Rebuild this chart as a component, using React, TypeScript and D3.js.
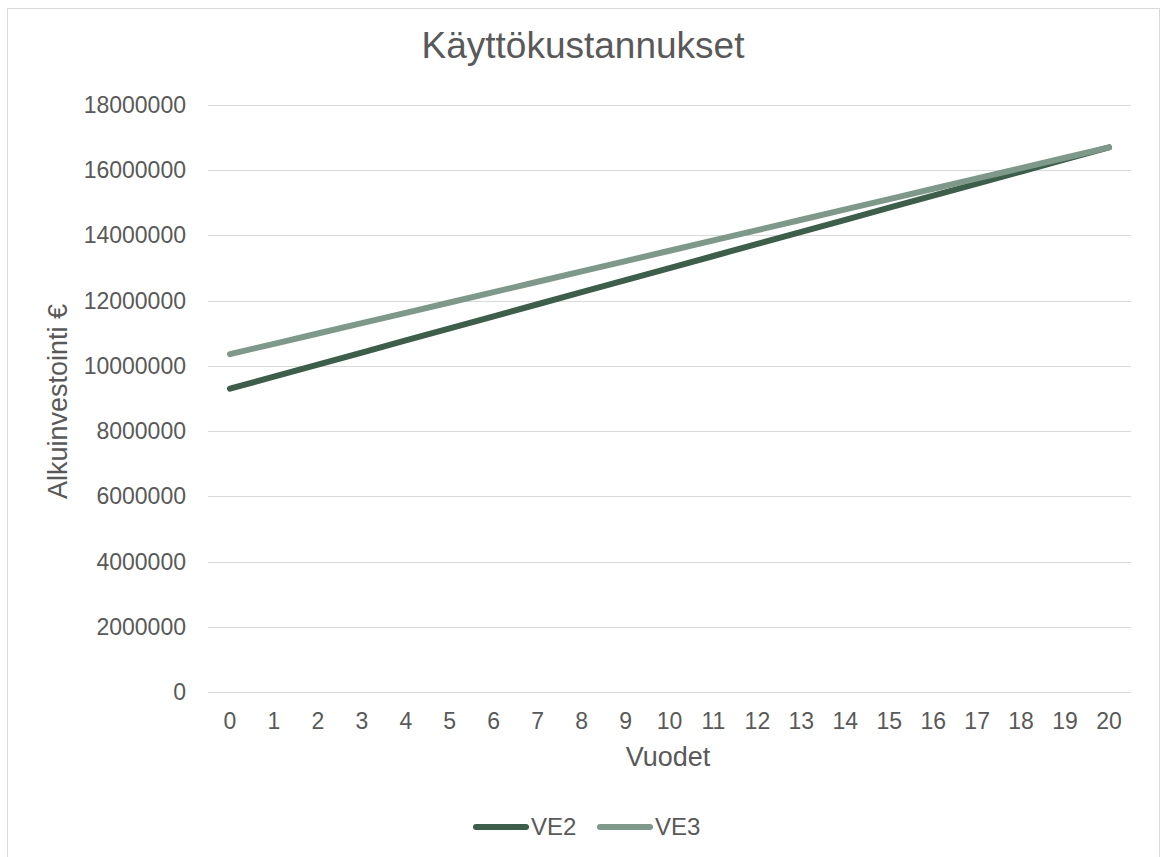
import React, { useEffect, useRef } from 'react';
import * as d3 from 'd3';

const years = d3.range(0, 21).map(String);
const ve2 = [
  9300000, 9670000, 10040000, 10410000, 10780000, 11150000, 11520000, 11890000, 12260000, 12630000, 13000000,
  13370000, 13740000, 14110000, 14480000, 14850000, 15220000, 15590000, 15960000, 16330000, 16700000,
];
const ve3 = [
  10360000, 10677000, 10994000, 11311000, 11628000, 11945000, 12262000, 12579000, 12896000, 13213000, 13530000,
  13847000, 14164000, 14481000, 14798000, 15115000, 15432000, 15749000, 16066000, 16383000, 16700000,
];
const yTicks = [0, 2000000, 4000000, 6000000, 8000000, 10000000, 12000000, 14000000, 16000000, 18000000];
const series = [
  { name: 'VE2', values: ve2, color: '#3c5e4b' },
  { name: 'VE3', values: ve3, color: '#7e988a' },
];

const App: React.FC = () => {
  const ref = useRef<SVGSVGElement>(null);

  useEffect(() => {
    const svg = d3.select(ref.current);
    svg.selectAll('*').remove();
    const font = '"Liberation Sans", Arial, sans-serif';
    const textColor = '#595959';

    svg
      .append('rect')
      .attr('x', 7.5)
      .attr('y', 8.5)
      .attr('width', 1152)
      .attr('height', 870)
      .attr('fill', 'white')
      .attr('stroke', '#d9d9d9');

    const left = 208;
    const right = 1131;
    const top = 105;
    const bottom = 692;

    const x = d3.scaleBand().domain(years).range([left, right]);
    const y = d3.scaleLinear().domain([0, 18000000]).range([bottom, top]);

    svg
      .selectAll('.grid')
      .data(yTicks)
      .enter()
      .append('line')
      .attr('x1', left)
      .attr('x2', right)
      .attr('y1', (d) => Math.round(y(d)) + 0.5)
      .attr('y2', (d) => Math.round(y(d)) + 0.5)
      .attr('stroke', '#d9d9d9')
      .attr('stroke-width', 1);

    svg
      .selectAll('.ylab')
      .data(yTicks)
      .enter()
      .append('text')
      .attr('x', 186)
      .attr('y', (d) => y(d))
      .attr('dy', '0.35em')
      .attr('text-anchor', 'end')
      .attr('font-family', font)
      .attr('font-size', 23)
      .attr('fill', textColor)
      .text((d) => String(d));

    svg
      .selectAll('.xlab')
      .data(years)
      .enter()
      .append('text')
      .attr('x', (d) => x(d)! + x.bandwidth() / 2)
      .attr('y', 729)
      .attr('text-anchor', 'middle')
      .attr('font-family', font)
      .attr('font-size', 23)
      .attr('fill', textColor)
      .text((d) => d);

    const line = d3
      .line<number>()
      .x((_, i) => x(years[i])! + x.bandwidth() / 2)
      .y((d) => y(d));

    series.forEach((s) => {
      svg
        .append('path')
        .attr('d', line(s.values)!)
        .attr('fill', 'none')
        .attr('stroke', s.color)
        .attr('stroke-width', 6)
        .attr('stroke-linecap', 'round')
        .attr('stroke-linejoin', 'round');
    });

    svg
      .append('text')
      .attr('x', 583)
      .attr('y', 58)
      .attr('text-anchor', 'middle')
      .attr('font-family', font)
      .attr('font-size', 37)
      .attr('fill', textColor)
      .text('Käyttökustannukset');

    svg
      .append('text')
      .attr('transform', `translate(67, ${(top + bottom) / 2 + 3}) rotate(-90)`)
      .attr('text-anchor', 'middle')
      .attr('font-family', font)
      .attr('font-size', 27)
      .attr('fill', textColor)
      .text('Alkuinvestointi €');

    svg
      .append('text')
      .attr('x', 668)
      .attr('y', 766)
      .attr('text-anchor', 'middle')
      .attr('font-family', font)
      .attr('font-size', 27)
      .attr('fill', textColor)
      .text('Vuodet');

    const legend = svg
      .selectAll('.legend')
      .data(series)
      .enter()
      .append('g')
      .attr('transform', (_, i) => `translate(${476 + i * 124}, 827)`);
    legend
      .append('line')
      .attr('x1', 0)
      .attr('x2', 50)
      .attr('stroke', (d) => d.color)
      .attr('stroke-width', 6)
      .attr('stroke-linecap', 'round');
    legend
      .append('text')
      .attr('x', 55)
      .attr('y', 8)
      .attr('font-family', font)
      .attr('font-size', 24)
      .attr('fill', textColor)
      .text((d) => d.name);
  }, []);

  return (
    <svg
      ref={ref}
      width={1166}
      height={857}
      style={{ position: 'fixed', left: 0, top: 0, background: 'white' }}
    />
  );
};

export default App;
